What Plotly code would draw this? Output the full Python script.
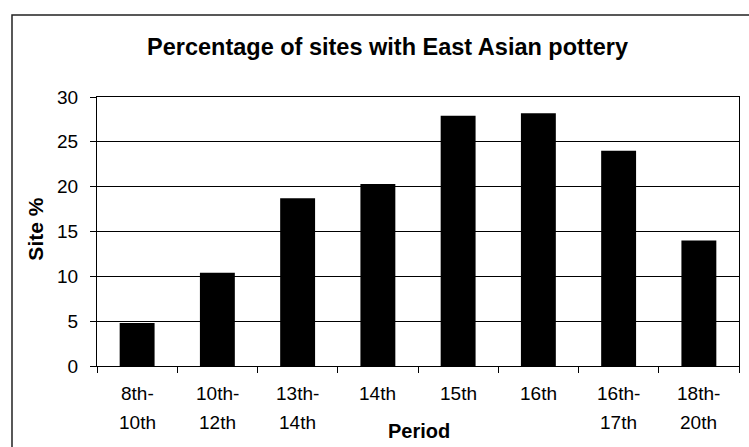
import plotly.graph_objects as go

# Share of sites yielding East Asian pottery, by period
periods = ["8th-10th", "10th-12th", "13th-14th", "14th", "15th", "16th", "16th-17th", "18th-20th"]
label_top = ["8th-", "10th-", "13th-", "14th", "15th", "16th", "16th-", "18th-"]
label_bottom = ["10th", "12th", "14th", "", "", "", "17th", "20th"]
site_pct = [4.8, 10.4, 18.7, 20.3, 27.9, 28.2, 24.0, 14.0]
y_ticks = [0, 5, 10, 15, 20, 25, 30]

FONT = "Liberation Sans, Arial, sans-serif"

fig = go.Figure(
    go.Bar(
        x=periods,
        y=site_pct,
        marker=dict(color="black", line=dict(color="black", width=0)),
        width=0.435,
    )
)

# Category labels drawn in two rows under each bar
annotations = []
for p, top, bottom in zip(periods, label_top, label_bottom):
    annotations.append(dict(x=p, xref="x", y=-0.103, yref="paper", text=top,
                            showarrow=False, xanchor="center", yanchor="middle",
                            font=dict(family=FONT, size=19, color="black")))
    if bottom:
        annotations.append(dict(x=p, xref="x", y=-0.21, yref="paper", text=bottom,
                                showarrow=False, xanchor="center", yanchor="middle",
                                font=dict(family=FONT, size=19, color="black")))

annotations += [
    dict(x=0.453, y=1.186, xref="paper", yref="paper",
         text="<b>Percentage of sites with East Asian pottery</b>", showarrow=False,
         xanchor="center", yanchor="middle",
         font=dict(family=FONT, size=23.5, color="black")),
    dict(x=0.501, y=-0.242, xref="paper", yref="paper", text="<b>Period</b>",
         showarrow=False, xanchor="center", yanchor="middle",
         font=dict(family=FONT, size=20, color="black")),
    dict(x=-0.095, y=0.507, xref="paper", yref="paper", text="<b>Site %</b>",
         showarrow=False, textangle=-90, xanchor="center", yanchor="middle",
         font=dict(family=FONT, size=21, color="black")),
]

fig.update_layout(
    width=749,
    height=447,
    margin=dict(l=97, r=10, t=97, b=81),
    paper_bgcolor="white",
    plot_bgcolor="white",
    showlegend=False,
    bargap=0.565,
    annotations=annotations,
    shapes=[
        # outer chart frame
        dict(type="rect", xref="paper", yref="paper",
             x0=-0.1324, x1=1.04, y0=-0.40, y1=1.305,
             line=dict(color="#222", width=1.5), fillcolor="rgba(0,0,0,0)", layer="below"),
    ],
    xaxis=dict(
        type="category",
        showticklabels=False,
        ticks="outside",
        tickson="boundaries",
        ticklen=6,
        tickcolor="black",
        showline=True,
        linecolor="black",
        linewidth=1,
        mirror=True,
        showgrid=False,
        fixedrange=True,
    ),
    yaxis=dict(
        range=[0, 30],
        tickvals=y_ticks,
        ticks="outside",
        ticklen=6,
        tickcolor="black",
        ticklabelstandoff=8,
        tickfont=dict(family=FONT, size=19, color="black"),
        showline=True,
        linecolor="black",
        linewidth=1,
        mirror=True,
        showgrid=True,
        gridcolor="black",
        gridwidth=1,
        zeroline=False,
        fixedrange=True,
    ),
)

fig.write_html("out.html")
